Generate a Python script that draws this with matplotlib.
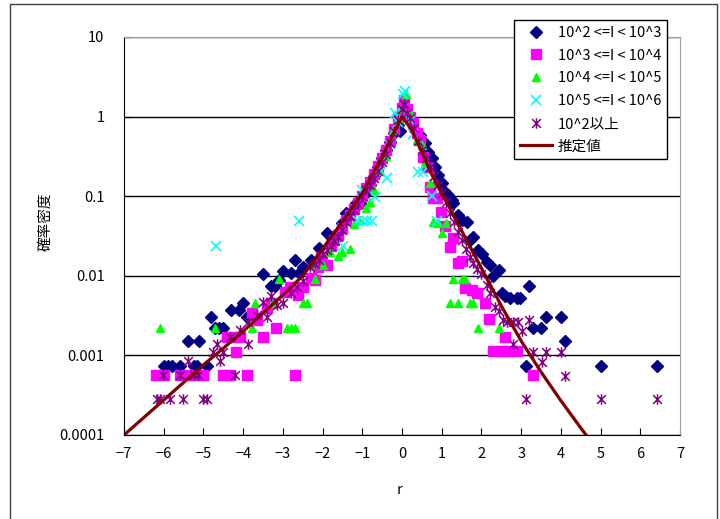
import matplotlib
matplotlib.use("Agg")
from matplotlib import pyplot as plt
from matplotlib.path import Path
from matplotlib.patches import Rectangle

plt.rcParams['font.family'] = ['Noto Sans CJK JP', 'DejaVu Sans']

# 10^2 <= I < 10^3
navy_x = [-6.0, -5.9, -5.8, -5.6, -5.4, -5.25, -5.15, -5.1, -4.9, -4.8, -4.7, -4.6, -4.5,
          -4.3, -4.1, -4.0, -3.9, -3.5, -3.3, -3.2, -3.1, -3.0, -2.8, -2.7, -2.6, -2.5,
          -2.3, -2.1, -1.9, -1.8, -1.7, -1.5, -1.4, -1.3, -1.15, -1.05, -0.9, -0.8, -0.7,
          -0.6, -0.5, -0.4, -0.3, -0.2, -0.1, -0.05,
          0.25, 0.33, 0.45, 0.5, 0.58, 0.66, 0.75, 0.83, 0.91, 1.0, 1.08, 1.17, 1.25, 1.29,
          1.42, 1.5, 1.63, 1.71, 1.8, 1.92, 2.01, 2.13, 2.22, 2.3, 2.43, 2.52, 2.6, 2.73,
          2.9, 2.98, 3.12, 3.21, 3.31, 3.5, 3.62, 4.0, 4.1, 5.02, 6.42]
navy_y = [0.00074, 0.00074, 0.00074, 0.00074, 0.0015, 0.00074, 0.00074, 0.0015, 0.00074,
          0.0030, 0.0022, 0.0022, 0.0022, 0.0037, 0.0037, 0.0045, 0.0030, 0.0104, 0.0075,
          0.0075, 0.0089, 0.0116, 0.011, 0.0158, 0.011, 0.013, 0.0158, 0.0225, 0.034, 0.031,
          0.028, 0.046, 0.061, 0.061, 0.081, 0.081, 0.109, 0.14, 0.18, 0.23, 0.30, 0.38,
          0.48, 0.62, 0.78, 0.65,
          0.82, 0.68, 0.59, 0.46, 0.46, 0.36, 0.30, 0.23, 0.185, 0.145, 0.113, 0.104, 0.09,
          0.081, 0.058, 0.05, 0.048, 0.028, 0.031, 0.021, 0.019, 0.015, 0.0137, 0.0098,
          0.0118, 0.006, 0.0055, 0.0052, 0.0052, 0.0052, 0.00074, 0.0075, 0.0022, 0.0022,
          0.003, 0.003, 0.0015, 0.00074, 0.00074]

# 10^3 <= I < 10^4
mag_x = [-6.2, -6.0, -5.6, -5.4, -5.2, -5.0, -4.5, -4.35, -3.9, -2.7, -4.4, -4.25, -4.18,
         -4.08, -3.78, -3.66, -3.5, -3.4, -3.3, -3.18, -2.95, -2.82, -2.61, -2.49, -2.3,
         -2.19, -2.11, -2.03, -1.9, -1.8, -1.7, -1.6, -1.5, -1.4, -1.3, -1.2, -1.1, -1.0,
         -0.9, -0.8, -0.7, -0.6, -0.5, -0.4, -0.3, -0.2, -0.1, 0.0, 0.05, 0.12, 0.2, 0.28,
         0.37, 0.45, 0.54, 0.62, 0.7, 0.79, 0.87, 0.97, 1.08, 1.21, 1.29, 1.42, 1.52, 1.59,
         1.76, 1.88, 2.09, 2.2, 2.3, 2.5, 2.7, 2.9, 2.6, 3.31]
mag_y = [0.00056, 0.00056, 0.00056, 0.00056, 0.00056, 0.00056, 0.00056, 0.00056, 0.00056,
         0.00056, 0.0017, 0.0017, 0.0011, 0.0017, 0.0034, 0.0028, 0.0017, 0.0039, 0.0045,
         0.0022, 0.0063, 0.0073, 0.0057, 0.0073, 0.0095, 0.0089, 0.013, 0.017, 0.0136,
         0.024, 0.028, 0.033, 0.04, 0.05, 0.058, 0.07, 0.083, 0.1, 0.125, 0.15, 0.19, 0.24,
         0.3, 0.38, 0.5, 0.7, 1.0, 1.3, 1.6, 1.25, 1.0, 0.82, 0.62, 0.51, 0.31, 0.23, 0.13,
         0.094, 0.094, 0.064, 0.042, 0.023, 0.03, 0.0145, 0.0152, 0.007, 0.0066, 0.006,
         0.0045, 0.0029, 0.00114, 0.00114, 0.00114, 0.00114, 0.0017, 0.00056]

# 10^4 <= I < 10^5
grn_x = [-6.1, -4.7, -3.78, -3.7, -3.28, -3.1, -2.9, -2.8, -2.7, -2.49, -2.4, -2.27, -2.19,
         -2.0, -1.81, -1.6, -1.5, -1.31, -1.2, -1.05, -0.9, -0.81, -0.7, -0.55, -0.4, -0.22,
         -0.1, 0.0, 0.1, 0.2, 0.37, 0.5, 0.58, 0.7, 0.79, 0.91, 1.0, 1.12, 1.21, 1.29, 1.42,
         1.5, 1.59, 1.71, 1.8, 1.92, 2.43]
grn_y = [0.0022, 0.0022, 0.0022, 0.0045, 0.0045, 0.009, 0.0022, 0.0022, 0.0022, 0.0045,
         0.0045, 0.0135, 0.009, 0.0135, 0.02, 0.0175, 0.02, 0.022, 0.045, 0.05, 0.072,
         0.085, 0.12, 0.21, 0.32, 0.68, 0.95, 1.3, 1.95, 1.1, 0.51, 0.44, 0.26, 0.145,
         0.048, 0.046, 0.034, 0.046, 0.0045, 0.009, 0.0045, 0.009, 0.009, 0.0045, 0.0045,
         0.0022, 0.0022]

# 10^5 <= I < 10^6
cyn_x = [-4.69, -2.6, -1.48, -1.1, -0.97, -0.89, -0.76, -1.0, -0.67, -0.55, -0.39, -0.3,
         -0.18, -0.1, 0.03, 0.08, 0.2, 0.28, 0.41, 0.54, 0.75, 0.87]
cyn_y = [0.024, 0.049, 0.024, 0.049, 0.049, 0.049, 0.049, 0.12, 0.097, 0.2, 0.17, 0.45,
         1.1, 0.85, 1.95, 2.1, 0.9, 0.61, 0.2, 0.2, 0.1, 0.049]

# 10^2 以上
pur_x = [-6.18, -6.09, -5.84, -5.51, -5.0, -4.9, -6.01, -5.59, -5.25, -5.13, -4.2, -5.4,
         -4.75, -4.67, -4.58, -4.5, -4.33, -4.08, -3.88, -3.87, -3.66, -3.49, -3.4, -3.3,
         -3.15, -2.99, -2.8, -2.65, -2.5, -2.32, -2.2, -2.1, -2.0, -1.9, -1.8, -1.7, -1.6,
         -1.5, -1.4, -1.3, -1.2, -1.1, -1.0, -0.9, -0.8, -0.7, -0.6, -0.5, -0.4, -0.3, -0.2,
         -0.1, 0.0, 0.05, 0.12, 0.2, 0.3, 0.4, 0.5, 0.6, 0.7, 0.8, 0.9, 1.0, 1.1, 1.2, 1.3,
         1.4, 1.5, 1.6, 1.7, 1.8, 1.9, 2.0, 2.13, 2.22, 2.34, 2.45, 2.55, 2.64, 2.8, 2.93,
         3.03, 3.19, 2.8, 3.31, 3.62, 4.0, 3.52, 4.11, 3.12, 5.02, 6.42]
pur_y = [0.00028, 0.00028, 0.00028, 0.00028, 0.00028, 0.00028, 0.00056, 0.00056, 0.00056,
         0.00056, 0.00056, 0.00084, 0.0011, 0.0014, 0.00084, 0.0011, 0.0017, 0.0021, 0.0014,
         0.0026, 0.0032, 0.0047, 0.003, 0.0055, 0.0043, 0.0045, 0.006, 0.0073, 0.0085,
         0.013, 0.014, 0.016, 0.019, 0.021, 0.024, 0.027, 0.031, 0.038, 0.047, 0.056, 0.068,
         0.08, 0.1, 0.12, 0.14, 0.17, 0.21, 0.27, 0.34, 0.47, 0.65, 0.9, 1.25, 1.45, 1.1,
         0.95, 0.72, 0.5, 0.38, 0.3, 0.23, 0.18, 0.14, 0.11, 0.085, 0.062, 0.048, 0.036,
         0.028, 0.022, 0.017, 0.0145, 0.012, 0.0105, 0.0077, 0.006, 0.0041, 0.0036, 0.0028,
         0.0026, 0.0026, 0.0026, 0.002, 0.0028, 0.0014, 0.0011, 0.0011, 0.0011, 0.00083,
         0.00055, 0.00028, 0.00028, 0.00028]

# 推定値
est_x = [-7.0, -6.5, -6.0, -5.5, -5.0, -4.5, -4.0, -3.5, -3.0, -2.5, -2.0, -1.5, -1.0, -0.5,
         0.0, 0.25, 0.5, 0.75, 1.0, 1.5, 2.0, 2.5, 3.0, 3.5, 4.0, 4.5, 4.8]
est_y = [1.0e-4, 1.66e-4, 2.75e-4, 4.57e-4, 7.59e-4, 1.23e-3, 2.0e-3, 3.39e-3, 5.75e-3,
         0.01, 0.0219, 0.0479, 0.110, 0.316, 1.0, 0.676, 0.355, 0.186, 0.11, 0.037,
         0.0125, 0.0042, 0.00152, 0.00062, 0.00027, 0.000123, 7.8e-5]

labels = ['10^2 <=I < 10^3', '10^3 <=I < 10^4', '10^4 <=I < 10^5',
          '10^5 <=I < 10^6', '10^2以上', '推定値']

asterisk = Path([(-1, -1), (1, 1), (-1, 1), (1, -1), (0, -1.2), (0, 1.2)],
                [Path.MOVETO, Path.LINETO, Path.MOVETO, Path.LINETO, Path.MOVETO, Path.LINETO])

fig = plt.figure(figsize=(7.2, 5.19), dpi=100)
ax = fig.add_axes([124/720, 1-435/519, 556/720, 398/519])

ax.plot(navy_x, navy_y, ls='none', marker='D', ms=6.3, color='#000080', label=labels[0])
ax.plot(mag_x, mag_y, ls='none', marker='s', ms=7.3, color='#ff00ff', label=labels[1])
ax.plot(grn_x, grn_y, ls='none', marker='^', ms=5.3, color='#00ff00', label=labels[2])
ax.plot(cyn_x, cyn_y, ls='none', marker='x', ms=7.5, mew=1.2, color='#00ffff', label=labels[3])
ax.plot(pur_x, pur_y, ls='none', marker=asterisk, ms=7.5, mew=1.1, color='#800080',
        fillstyle='none', label=labels[4])
ax.plot(est_x, est_y, color='#800000', lw=2.3, label=labels[5])

ax.set_yscale('log')
ax.set_xlim(-7, 7)
ax.set_ylim(1e-4, 10)
ax.set_xticks(range(-7, 8))
ax.set_yticks([1e-4, 1e-3, 1e-2, 1e-1, 1, 10])
ax.set_yticklabels(['0.0001', '0.001', '0.01', '0.1', '1', '10'])
ax.minorticks_off()
ax.tick_params(axis='x', direction='in', length=5, pad=9, labelsize=10.5)
ax.tick_params(axis='y', direction='in', length=5, pad=14, labelsize=10.5)
ax.yaxis.grid(True, color='black', lw=1)
ax.set_axisbelow(True)
for s in ['left', 'bottom']:
    ax.spines[s].set_color('black')
for s in ['top', 'right']:
    ax.spines[s].set_color('#a0a0a0')

fig.text(45/720, 1-222/519, '確率密度', rotation=90, ha='center', va='center', fontsize=10.5)
fig.text(400/720, 1-490/519, 'r', ha='center', va='center', fontsize=10.5)

leg = ax.legend(loc='upper left', bbox_to_anchor=(514/720, 1-20/519),
                bbox_transform=fig.transFigure, fontsize=10.5, frameon=True,
                fancybox=False, edgecolor='black', framealpha=1, borderpad=0.4,
                labelspacing=0.6, handlelength=2.2, handletextpad=0.4, borderaxespad=0)
leg.get_frame().set_linewidth(1)

fig.patches.append(Rectangle((10/720, -0.01), 707/720, 1.01-4/519, transform=fig.transFigure,
                             fill=False, edgecolor='#404040', lw=1))

fig.savefig('out.png', dpi=100)
